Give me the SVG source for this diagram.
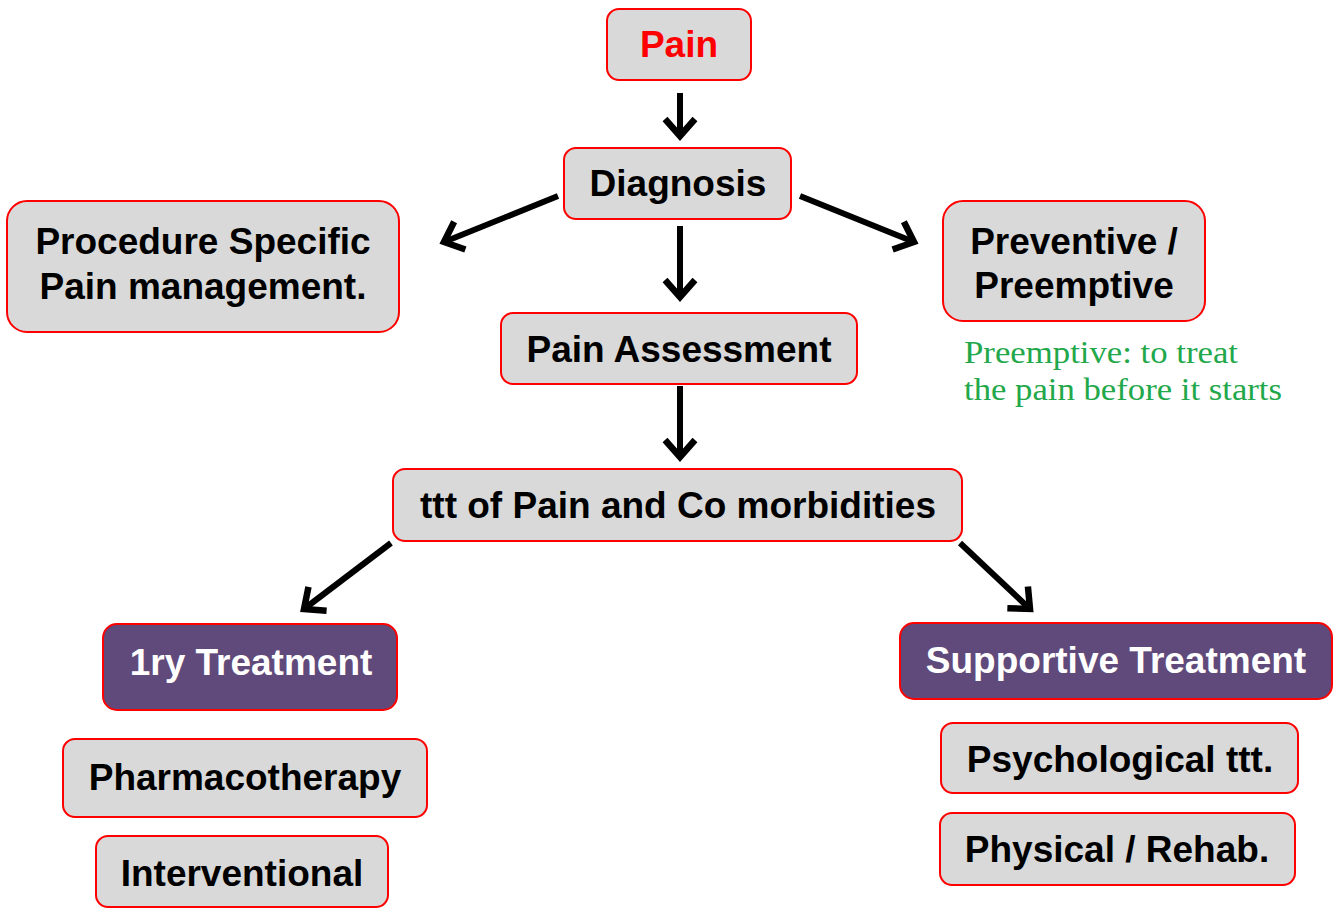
<svg xmlns="http://www.w3.org/2000/svg" width="1334" height="908" viewBox="0 0 1334 908">
<defs>
<style>
.box{fill:#d9d9d9;stroke:#ff0000;stroke-width:2}
.pbox{fill:#604a7b;stroke:#ff0000;stroke-width:2}
.t{font-family:"Liberation Sans",Arial,sans-serif;font-weight:bold;font-size:37px;text-anchor:middle;fill:#000}
.w{fill:#fff}
.note{font-family:"Liberation Serif","DejaVu Serif",serif;font-size:31px;fill:#22a84a}
.arr{stroke:#000;stroke-width:6;fill:none;marker-end:url(#ah)}
</style>
<marker id="ah" markerUnits="userSpaceOnUse" viewBox="-24 -24 48 48" markerWidth="48" markerHeight="48" refX="0" refY="0" orient="auto">
<path d="M-17,-15 L0,0 L-17,15" fill="none" stroke="#000" stroke-width="6.5" stroke-linecap="butt"/>
</marker>
</defs>
<rect width="1334" height="908" fill="#fff"/>
<g id="connectors">
<line class="arr" x1="680" y1="93" x2="680" y2="136"/>
<line class="arr" x1="558" y1="196" x2="444" y2="242"/>
<line class="arr" x1="680" y1="226" x2="680" y2="297"/>
<line class="arr" x1="800" y1="196" x2="914" y2="242"/>
<line class="arr" x1="680" y1="386" x2="680" y2="457"/>
<line class="arr" x1="391" y1="543" x2="304" y2="609"/>
<line class="arr" x1="960" y1="543" x2="1030" y2="609"/>
</g>
<g id="pain"><rect class="box" x="607" y="9" width="144" height="71" rx="12"/><text class="t" x="679" y="57" style="fill:#ff0000">Pain</text></g>
<g id="diagnosis"><rect class="box" x="564" y="148" width="227" height="71" rx="12"/><text class="t" x="678" y="196">Diagnosis</text></g>
<g id="procedure"><rect class="box" x="7" y="201" width="392" height="131" rx="20"/><text class="t" x="203" y="254">Procedure Specific</text><text class="t" x="203" y="299">Pain management.</text></g>
<g id="preventive"><rect class="box" x="943" y="201" width="262" height="120" rx="20"/><text class="t" x="1074" y="254">Preventive /</text><text class="t" x="1074" y="298">Preemptive</text></g>
<g id="note"><text class="note" x="964" y="363" textLength="274" lengthAdjust="spacingAndGlyphs">Preemptive: to treat</text><text class="note" x="964" y="400" textLength="318" lengthAdjust="spacingAndGlyphs">the pain before it starts</text></g>
<g id="assessment"><rect class="box" x="501" y="313" width="356" height="71" rx="12"/><text class="t" x="679" y="362">Pain Assessment</text></g>
<g id="ttt"><rect class="box" x="393" y="469" width="569" height="72" rx="12"/><text class="t" x="678" y="518">ttt of Pain and Co morbidities</text></g>
<g id="primary"><rect class="pbox" x="103" y="624" width="294" height="86" rx="14"/><text class="t w" x="251" y="675">1ry Treatment</text></g>
<g id="supportive"><rect class="pbox" x="900" y="623" width="432" height="76" rx="14"/><text class="t w" x="1116" y="673">Supportive Treatment</text></g>
<g id="pharma"><rect class="box" x="63" y="739" width="364" height="78" rx="12"/><text class="t" x="245" y="790">Pharmacotherapy</text></g>
<g id="interventional"><rect class="box" x="96" y="836" width="292" height="71" rx="12"/><text class="t" x="242" y="886">Interventional</text></g>
<g id="psychological"><rect class="box" x="941" y="723" width="357" height="70" rx="12"/><text class="t" x="1120" y="772">Psychological ttt.</text></g>
<g id="physical"><rect class="box" x="940" y="813" width="355" height="72" rx="12"/><text class="t" x="1117" y="862">Physical / Rehab.</text></g>
</svg>
